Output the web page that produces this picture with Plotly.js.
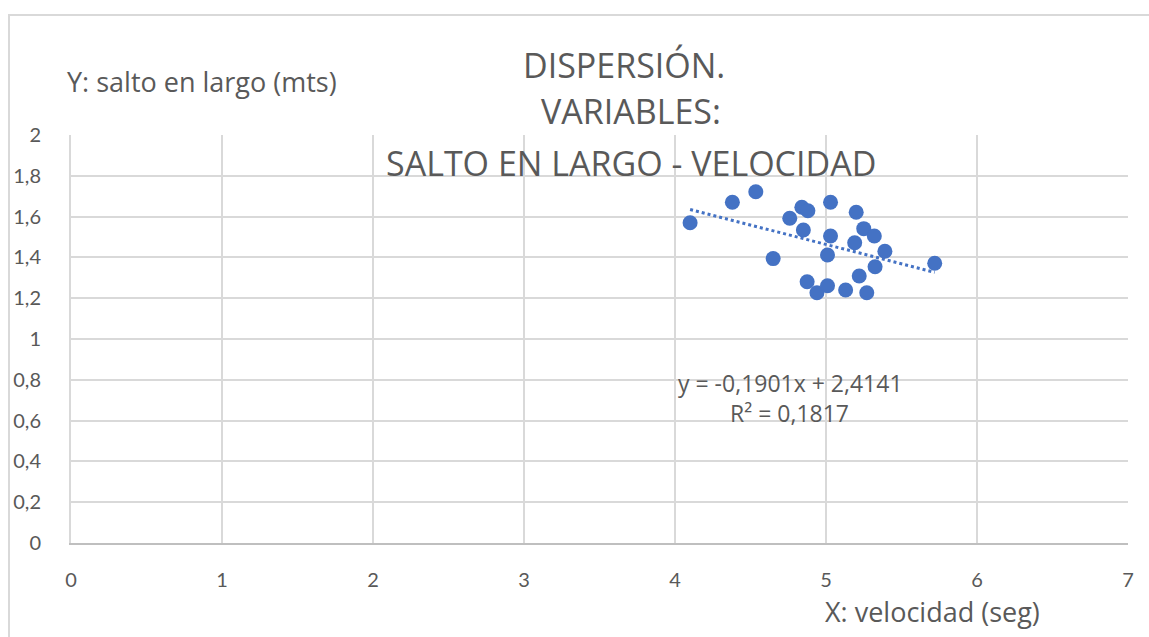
<!DOCTYPE html>
<html>
<head>
<meta charset="utf-8">
<script src="https://cdn.plot.ly/plotly-3.0.1.min.js"></script>
<style>
  html, body { margin: 0; padding: 0; background: #ffffff; }
  #wrap { position: relative; width: 1149px; height: 637px; overflow: hidden; }
  #chart { position: absolute; left: 0; top: 0; width: 1149px; height: 637px; }
  #frame { position: absolute; left: 8px; top: 14px; width: 1160px; height: 640px;
           border-left: 2px solid #d9d9d9; border-top: 2px solid #d9d9d9; pointer-events: none; }
</style>
</head>
<body>
<div id="wrap">
  <div id="chart"></div>
  <div id="frame"></div>
</div>
<script>
// Data
const velocidad = [4.10, 4.38, 4.535, 4.76, 4.84, 4.88, 4.85, 5.03, 5.03, 5.01, 4.65, 5.20,
                   5.25, 5.32, 5.19, 5.39, 5.72, 5.325, 5.22, 4.875, 4.94, 5.01, 5.13, 5.27];
const salto     = [1.570, 1.670, 1.722, 1.592, 1.646, 1.629, 1.534, 1.670, 1.505, 1.412, 1.394, 1.621,
                   1.541, 1.505, 1.472, 1.430, 1.371, 1.354, 1.309, 1.281, 1.227, 1.261, 1.240, 1.227];
// Trend line coefficients as printed on the chart
const trendSlope = -0.1901;
const trendIntercept = 2.4141;
const trendR2 = 0.1817;

const titleLines = ["DISPERSIÓN.", "VARIABLES:", "SALTO EN LARGO - VELOCIDAD"];
const yTitle = "Y: salto en largo (mts)";
const xTitle = "X: velocidad (seg)";
const eqText = "y = -0,1901x + 2,4141";
const r2Text = "R² = 0,1817";

const xMin = Math.min(...velocidad), xMax = Math.max(...velocidad);
const trendX = [xMin, xMax];
const trendY = trendX.map(v => trendIntercept + trendSlope * v);

const grey = '#595959';
const tickFont = 'Lato, "Open Sans", sans-serif';
const textFont = '"Open Sans", Lato, sans-serif';

const traces = [
  {
    x: velocidad, y: salto, type: 'scatter', mode: 'markers',
    marker: { color: '#4472C4', size: 15, line: { width: 0 } },
    hoverinfo: 'none'
  },
  {
    x: trendX, y: trendY, type: 'scatter', mode: 'lines',
    line: { color: '#4472C4', width: 3, dash: 'dot' },
    hoverinfo: 'none'
  }
];

function ann(text, x, y, size, xanchor) {
  return { text: text, xref: 'paper', yref: 'paper', x: x, y: y,
           xanchor: xanchor || 'center', yanchor: 'middle', showarrow: false,
           font: { family: textFont, size: size, color: grey } };
}

const layout = {
  width: 1149, height: 637,
  margin: { l: 71, r: 21, t: 135, b: 94 },
  paper_bgcolor: 'rgba(0,0,0,0)', plot_bgcolor: '#ffffff',
  showlegend: false,
  separators: ',.',
  font: { family: tickFont, color: grey },
  xaxis: {
    range: [0, 7], dtick: 1, tick0: 0,
    showgrid: true, gridcolor: '#d9d9d9', gridwidth: 2,
    zeroline: false, showline: true, linecolor: '#bfbfbf', linewidth: 2,
    ticks: '', ticklabelstandoff: 18,
    tickfont: { family: tickFont, size: 20, color: grey },
    fixedrange: true
  },
  yaxis: {
    range: [0, 2], dtick: 0.2, tick0: 0,
    showgrid: true, gridcolor: '#d9d9d9', gridwidth: 2,
    zeroline: false, showline: true, linecolor: '#d9d9d9', linewidth: 2,
    ticks: '', ticklabelstandoff: 24,
    tickfont: { family: tickFont, size: 20, color: grey },
    fixedrange: true
  },
  annotations: [
    ann(titleLines[0], 0.523, 1.172, 34),
    ann(titleLines[1], 0.530, 1.059, 34),
    ann(titleLines[2], 0.530, 0.932, 34),
    ann(yTitle, -0.0057, 1.13, 27, 'left'),
    ann(xTitle, 0.711, -0.169, 27, 'left'),
    ann(eqText, 0.681, 0.392, 23),
    ann(r2Text, 0.680, 0.319, 23)
  ]
};

Plotly.newPlot('chart', traces, layout, { staticPlot: true, displayModeBar: false });
</script>
</body>
</html>
